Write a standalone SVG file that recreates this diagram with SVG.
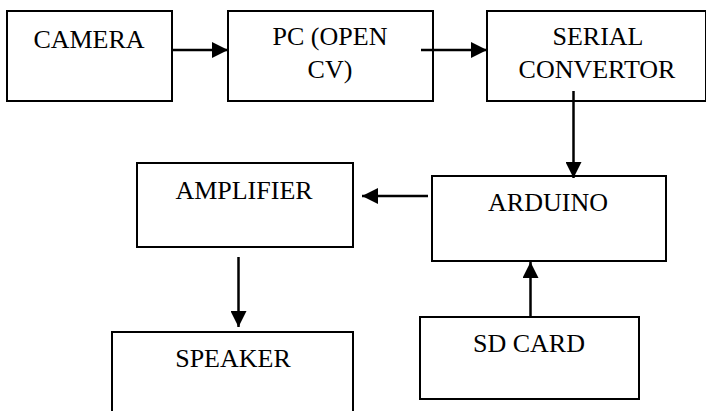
<svg xmlns="http://www.w3.org/2000/svg" width="706" height="411" viewBox="0 0 706 411">
<style>
.box{fill:#fff;stroke:#000;stroke-width:2}
.lbl{font-family:"Liberation Serif","Times New Roman",serif;font-size:26px;fill:#000;text-anchor:middle}
.con{stroke:#000;stroke-width:2.5;fill:none;marker-end:url(#ah)}
</style>
<defs>
<marker id="ah" markerUnits="userSpaceOnUse" markerWidth="16" markerHeight="16" viewBox="0 0 15 15" refX="15" refY="7.5" orient="auto">
<path d="M0,0 L15,7.5 L0,15 Z" fill="#000"/>
</marker>
</defs>
<rect width="706" height="411" fill="#fff"/>
<g id="camera"><rect class="box" x="7" y="11" width="165" height="90"/><text class="lbl" x="89" y="48">CAMERA</text></g>
<g id="pc"><rect class="box" x="228" y="11" width="205" height="90"/><text class="lbl" x="330" y="45">PC (OPEN</text><text class="lbl" x="330" y="78">CV)</text></g>
<g id="serial"><rect class="box" x="487" y="11" width="219" height="90"/><text class="lbl" x="598" y="45">SERIAL</text><text class="lbl" x="597" y="78">CONVERTOR</text></g>
<g id="amplifier"><rect class="box" x="137" y="163" width="216" height="84"/><text class="lbl" x="244" y="199">AMPLIFIER</text></g>
<g id="arduino"><rect class="box" x="432" y="176" width="234" height="85"/><text class="lbl" x="548" y="211">ARDUINO</text></g>
<g id="speaker"><rect class="box" x="112" y="332" width="241" height="90"/><text class="lbl" x="233" y="367">SPEAKER</text></g>
<g id="sdcard"><rect class="box" x="420" y="317" width="219" height="82"/><text class="lbl" x="529" y="352">SD CARD</text></g>
<g id="connectors">
<line class="con" x1="172" y1="50" x2="228" y2="50"/>
<line class="con" x1="421" y1="50" x2="487" y2="50"/>
<line class="con" x1="573.5" y1="91" x2="573.5" y2="178"/>
<line class="con" x1="428" y1="196" x2="362" y2="196"/>
<line class="con" x1="238.5" y1="257" x2="238.5" y2="327"/>
<line class="con" x1="530.5" y1="317" x2="530.5" y2="262"/>
</g>
</svg>
